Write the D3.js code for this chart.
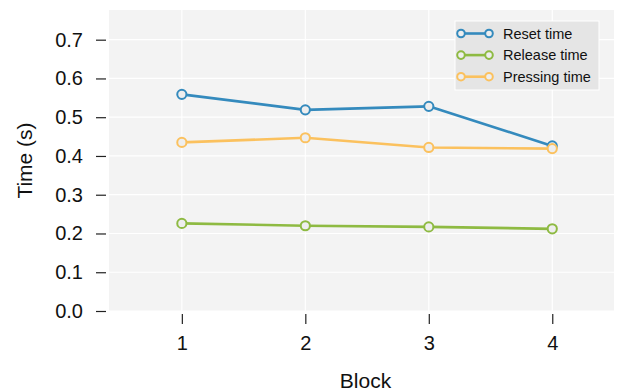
<!DOCTYPE html>
<html>
<head>
<meta charset="utf-8">
<script src="https://cdn.jsdelivr.net/npm/d3@7"></script>
<style>
  html, body { margin: 0; padding: 0; background: #ffffff; }
  svg { display: block; font-family: "Liberation Sans", Arial, Helvetica, sans-serif; }
</style>
</head>
<body>
<svg id="chart" width="618" height="392"></svg>
<script>
// Mean times per block
const blocks = [1, 2, 3, 4];
const resetTime = [0.559, 0.519, 0.528, 0.426];
const releaseTime = [0.226, 0.220, 0.217, 0.212];
const pressingTime = [0.435, 0.447, 0.422, 0.419];
const seriesNames = ["Reset time", "Release time", "Pressing time"];
const seriesColors = ["#348ABD", "#8EBA42", "#FBC15E"];
const yTicks = [0.0, 0.1, 0.2, 0.3, 0.4, 0.5, 0.6, 0.7];

const series = [resetTime, releaseTime, pressingTime].map((vals, i) => ({
  name: seriesNames[i],
  color: seriesColors[i],
  values: vals.map((v, j) => ({ x: blocks[j], y: v }))
}));

const svg = d3.select("#chart");
const plotLeft = 109, plotRight = 614, plotTop = 10, plotBottom = 311;

const x = d3.scaleLinear().domain([0.41, 4.5]).range([plotLeft, plotRight]);
const y = d3.scaleLinear().domain([0, 0.7766]).range([plotBottom, plotTop]);

// Plot background
svg.append("rect")
  .attr("x", plotLeft).attr("y", plotTop)
  .attr("width", plotRight - plotLeft).attr("height", plotBottom - plotTop)
  .attr("fill", "#f3f3f3");

// Grid
const grid = svg.append("g").attr("stroke", "#ffffff").attr("stroke-width", 1.2);
grid.selectAll(".hy").data(yTicks).join("line")
  .attr("x1", plotLeft).attr("x2", plotRight)
  .attr("y1", d => y(d)).attr("y2", d => y(d));
grid.selectAll(".vx").data(blocks).join("line")
  .attr("y1", plotTop).attr("y2", plotBottom)
  .attr("x1", d => x(d)).attr("x2", d => x(d));

// Y axis (ticks offset from the plot edge)
const yAxis = d3.axisLeft(y).tickValues(yTicks).tickFormat(d3.format(".1f"))
  .tickSize(10).tickPadding(13);
const gy = svg.append("g").attr("transform", `translate(${plotLeft - 3},0)`).call(yAxis);
gy.select(".domain").remove();
gy.selectAll(".tick line").attr("stroke", "#222").attr("stroke-width", 1.2);
gy.selectAll(".tick text").attr("fill", "#111").style("font-size", "20px")
  .style("font-family", "'Liberation Sans', Arial, sans-serif");

// X axis
const xAxis = d3.axisBottom(x).tickValues(blocks).tickFormat(d3.format("d"))
  .tickSize(10).tickPadding(12);
const gx = svg.append("g").attr("transform", `translate(0,${plotBottom + 3})`).call(xAxis);
gx.select(".domain").remove();
gx.selectAll(".tick line").attr("stroke", "#222").attr("stroke-width", 1.2);
gx.selectAll(".tick text").attr("fill", "#111").style("font-size", "20px")
  .style("font-family", "'Liberation Sans', Arial, sans-serif");

// Axis titles
svg.append("text")
  .attr("x", (plotLeft + plotRight) / 2 + 4).attr("y", 388)
  .attr("text-anchor", "middle").attr("fill", "#111")
  .style("font-size", "21px").text("Block");
svg.append("text")
  .attr("transform", `translate(32,${(plotTop + plotBottom) / 2}) rotate(-90)`)
  .attr("text-anchor", "middle").attr("fill", "#111")
  .style("font-size", "21px").text("Time (s)");

// Lines and markers
const line = d3.line().x(d => x(d.x)).y(d => y(d.y));
series.forEach(s => {
  const g = svg.append("g");
  g.append("path").datum(s.values)
    .attr("d", line).attr("fill", "none")
    .attr("stroke", s.color).attr("stroke-width", 2.6)
    .attr("stroke-linejoin", "round");
  g.selectAll("circle").data(s.values).join("circle")
    .attr("cx", d => x(d.x)).attr("cy", d => y(d.y))
    .attr("r", 4.6).attr("fill", "#eeeeee")
    .attr("stroke", s.color).attr("stroke-width", 2);
});

// Legend
const lg = svg.append("g");
lg.append("rect")
  .attr("x", 455).attr("y", 21).attr("width", 144).attr("height", 69)
  .attr("fill", "#e5e5e5").attr("stroke", "#ffffff").attr("stroke-width", 1);
series.forEach((s, i) => {
  const cy = 33.5 + i * 21.6;
  lg.append("line").attr("x1", 461).attr("x2", 489).attr("y1", cy).attr("y2", cy)
    .attr("stroke", s.color).attr("stroke-width", 2.6);
  [461, 489].forEach(cx => {
    lg.append("circle").attr("cx", cx).attr("cy", cy).attr("r", 3.8)
      .attr("fill", "#eeeeee").attr("stroke", s.color).attr("stroke-width", 2);
  });
  lg.append("text").attr("x", 503).attr("y", cy).attr("dy", "0.35em")
    .attr("fill", "#111").style("font-size", "14.5px").text(s.name);
});
</script>
</body>
</html>
